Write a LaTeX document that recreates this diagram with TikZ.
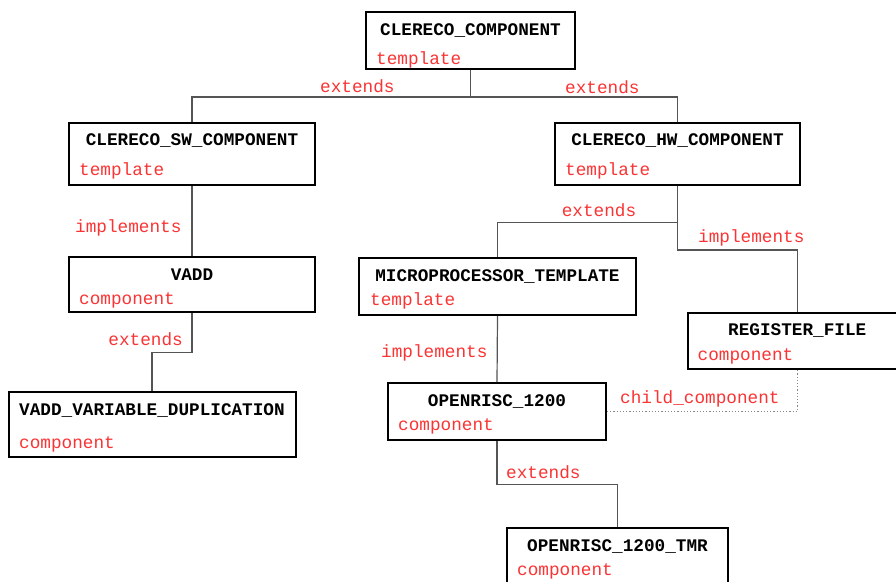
\documentclass[tikz,border=0pt]{standalone}
\usepackage{fontspec}
\setmonofont{Liberation Mono}
\definecolor{lblred}{RGB}{250,52,52}
\definecolor{connc}{RGB}{85,85,85}
\tikzset{
  boxnode/.style={draw=black, line width=2pt, fill=white, inner sep=0pt},
  titletext/.style={inner sep=0pt, anchor=base, font=\fontsize{17.7}{20}\selectfont\ttfamily\bfseries, text=black},
  kindtext/.style={inner sep=0pt, anchor=base west, font=\fontsize{17.7}{20}\selectfont\ttfamily, text=lblred},
  conn/.style={draw=connc, line width=1.2pt},
  childconn/.style={draw=connc!70, line width=1.2pt, dotted},
}
\begin{document}
\begin{tikzpicture}[x=1pt,y=-1pt]
\useasboundingbox (0,0) rectangle (896,581);
\clip (0,0) rectangle (896,581);
\fill[white] (0,0) rectangle (896,581);

% boxes
\node[boxnode, minimum width=209pt, minimum height=57pt] (cc) at (470.5,40.5) {};
\node[boxnode, minimum width=246pt, minimum height=62.5pt] (sw) at (192,153.75) {};
\node[boxnode, minimum width=245pt, minimum height=62.5pt] (hw) at (677.5,153.75) {};
\node[boxnode, minimum width=246pt, minimum height=55pt] (vadd) at (192,284.5) {};
\node[boxnode, minimum width=287pt, minimum height=65pt] (vvd) at (152,424) {};
\node[boxnode, minimum width=277pt, minimum height=57.5pt] (micro) at (497.5,286.25) {};
\node[boxnode, minimum width=219.5pt, minimum height=56.5pt] (reg) at (797.25,340.75) {};
\node[boxnode, minimum width=218pt, minimum height=57pt] (open) at (497,411.5) {};
\node[boxnode, minimum width=221pt, minimum height=57pt] (tmr) at (617.5,556.5) {};

% titles
\node[titletext] (cc-t) at (470.5,35.7) {CLERECO\_COMPONENT};
\node[titletext] (sw-t) at (192,145) {CLERECO\_SW\_COMPONENT};
\node[titletext] (hw-t) at (677.5,145) {CLERECO\_HW\_COMPONENT};
\node[titletext] (vadd-t) at (192,280) {VADD};
\node[titletext] (vvd-t) at (152,415) {VADD\_VARIABLE\_DUPLICATION};
\node[titletext] (micro-t) at (497.5,281) {MICROPROCESSOR\_TEMPLATE};
\node[titletext] (reg-t) at (797.25,335.7) {REGISTER\_FILE};
\node[titletext] (open-t) at (497,406.7) {OPENRISC\_1200};
\node[titletext] (tmr-t) at (617.5,551.7) {OPENRISC\_1200\_TMR};

% kinds
\node[kindtext] (cc-k) at (376,64.3) {template};
\node[kindtext] (sw-k) at (79,175.7) {template};
\node[kindtext] (hw-k) at (565,175.7) {template};
\node[kindtext] (vadd-k) at (79,304) {component};
\node[kindtext] (vvd-k) at (19,448) {component};
\node[kindtext] (micro-k) at (370,305) {template};
\node[kindtext] (reg-k) at (697.5,360) {component};
\node[kindtext] (open-k) at (398,430.7) {component};
\node[kindtext] (tmr-k) at (517,575) {component};

% connectors
\draw[conn] (cc.south) -- ++(0,27) coordinate (j1);
\draw[conn] (j1) -| (sw.north);
\draw[conn] (j1) -| (hw.north);
\draw[conn] (sw.south) -- (vadd.north);
\draw[conn] (vadd.south) -- ++(0,39.7) coordinate (j2) -| (vvd.north);
\draw[conn] (hw.south) -- ++(0,36.7) coordinate (j3) -| (micro.north);
\draw[conn] (j3) -- ++(0,27.3) coordinate (j4) -| (reg.north);
\draw[conn] (micro.south) -- (open.north);
\draw[conn] (open.south) -- ++(0,43.3) coordinate (j5) -| (tmr.north);
\draw[childconn] (open.east) -| (reg.south);

% connector labels
\node[kindtext] (l1) at (320,92.5) {extends};
\node[kindtext] (l2) at (565,93) {extends};
\node[kindtext] (l3) at (75,232.3) {implements};
\node[kindtext, anchor=base east] (l4) at (183,345.7) {extends};
\node[kindtext] (l5) at (561.6,216.7) {extends};
\node[kindtext] (l6) at (698,242.7) {implements};
\node[kindtext] (l7) at (381,357.7) {implements};
\node[kindtext] (l8) at (620,403.3) {child\_component};
\node[kindtext] (l9) at (506,478.3) {extends};
\end{tikzpicture}
\end{document}
